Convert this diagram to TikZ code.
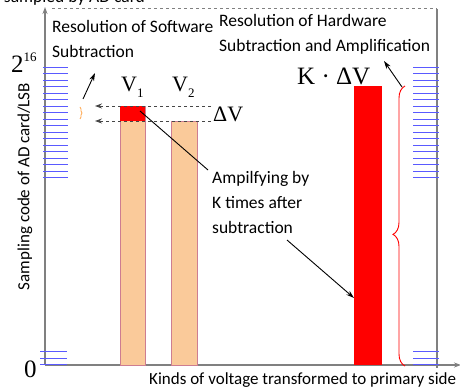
\documentclass[tikz,border=0pt]{standalone}
\usepackage{fontspec}
\setmainfont{Carlito}
\newfontfamily\serifm{Liberation Serif}
\usetikzlibrary{arrows.meta,decorations.pathreplacing}
\definecolor{peach}{RGB}{250,202,154}
\definecolor{mauve}{RGB}{205,125,145}
\definecolor{tickblue}{RGB}{90,90,255}
\definecolor{axisgray}{RGB}{128,128,128}
\definecolor{dashgray}{RGB}{70,70,70}
\tikzset{
  lbl/.style={inner sep=0pt, anchor=base west, font=\fontsize{17.5}{20}\selectfont},
  mlbl/.style={inner sep=0pt, anchor=base west, font=\serifm\fontsize{22}{24}\selectfont},
  axisline/.style={draw=axisgray, line width=1.2pt},
  tickline/.style={draw=tickblue, line width=1.1pt},
  barbox/.style={fill=peach, draw=mauve, line width=0.8pt},
  redbox/.style={fill=red, draw=none},
  guide/.style={draw=dashgray, dashed, line width=0.9pt, -{Stealth[length=7pt,width=5pt]}},
  pointer/.style={draw=black, line width=0.9pt, -{Stealth[length=8pt,width=5pt]}},
  leader/.style={draw=black, line width=0.9pt},
}
\begin{document}
\begin{tikzpicture}[x=1pt,y=-1pt]
\useasboundingbox (0,0) rectangle (460,387);
% partially visible top text
\node[lbl, anchor=base east] (toptext) at (145,3) {sampled by AD card};
% axes
\coordinate (O) at (45,365);
\coordinate (ytop) at (45,7);
\coordinate (xend) at (461,365);
\draw[axisline, -{Stealth[length=7pt,width=5pt]}] (O) -- (ytop);
\draw[axisline, -{Stealth[length=7pt,width=5pt]}] (O) -- (xend);
\coordinate (dl) at (52,9);
\coordinate (dr) at (437,9);
\coordinate (rb) at (437,368);
\draw[axisgray, dashed, line width=1pt] (dl) -- (dr);
\draw[axisline] (dr) -- (rb);
% blue ticks
\foreach \yy in {67.5,73.5,80.5,86.5,93.5,99.5,106.5,112.5,119.5,125.5,132.5,138.5,145.5,151.5,158.5,164.5,171.5,177.5} {
  \draw[tickline] (43,\yy) -- (68,\yy);
  \draw[tickline] (413,\yy) -- (439,\yy);
}
\foreach \yy in {351.5,358.5,364.5} {
  \draw[tickline] (40,\yy) -- (67,\yy);
  \draw[tickline] (413,\yy) -- (439,\yy);
}
% axis numbers
\node[inner sep=0pt, anchor=base west, font=\serifm\fontsize{25}{25}\selectfont] (two) at (11,73) {2\raisebox{11pt}{\fontsize{13}{13}\selectfont 16}};
\node[inner sep=0pt, anchor=base west, font=\serifm\fontsize{25}{25}\selectfont] (zero) at (24,377) {0};
% axis labels
\node[inner sep=0pt, rotate=90, font=\fontsize{17}{20}\selectfont] (ylab) at (25,186.5) {Sampling code of AD card/LSB};
\node[lbl, font=\fontsize{17}{20}\selectfont] (xlab) at (149,384) {Kinds of voltage transformed to primary side};
% resolution texts
\node[lbl] (sw1) at (52,33) {Resolution of Software};
\node[lbl] (sw2) at (52,58) {Subtraction};
\node[lbl] (hw1) at (219,27) {Resolution of Hardware};
\node[lbl] (hw2) at (219,52) {Subtraction and Amplification};
\coordinate (swa) at (83,99);
\coordinate (swb) at (95,73);
\draw[pointer] (swa) -- (swb);
\coordinate (hwa) at (402,87);
\coordinate (hwb) at (384,61);
\draw[pointer] (hwa) -- (hwb);
% bars
\path[barbox] (120,106) rectangle (145,365);
\path[redbox] (120.4,106.4) rectangle (144.6,121) coordinate (v1red);
\path[barbox] (171,121) rectangle (197,365);
\path[redbox] (354,86) rectangle (382,365);
\node[mlbl] (v1) at (121,92) {V\raisebox{-6pt}{\fontsize{13}{13}\selectfont 1}};
\node[mlbl] (v2) at (172,92) {V\raisebox{-6pt}{\fontsize{13}{13}\selectfont 2}};
% delta V guides
\coordinate (g1s) at (211,106);
\coordinate (g1e) at (95,106);
\coordinate (g2s) at (211,121);
\coordinate (g2e) at (95,121);
\draw[guide] (g1s) -- (g1e);
\draw[guide] (g2s) -- (g2e);
\node[mlbl] (dv) at (213,122) {ΔV};
\node[mlbl, font=\serifm\fontsize{25}{25}\selectfont] (kdv) at (297,85) {K · ΔV};
% small orange brace
\draw[orange!70, line width=0.7pt, decorate, decoration={brace, amplitude=2pt}] (80,107) -- (80,119);
% red big brace
\draw[red, line width=0.9pt, decorate, decoration={brace, amplitude=12pt, aspect=0.47}] (405,366) -- (405,86);
% annotation
\node[lbl] (an1) at (212,184) {Ampilfying by};
\node[lbl] (an2) at (212,209) {K times after};
\node[lbl] (an3) at (212,234) {subtraction};
\coordinate (la) at (140,111);
\coordinate (lb) at (208,170);
\draw[leader] (la) -- (lb);
\coordinate (pa) at (287,240);
\coordinate (pb) at (354,298);
\draw[pointer] (pa) -- (pb);
\end{tikzpicture}
\end{document}
